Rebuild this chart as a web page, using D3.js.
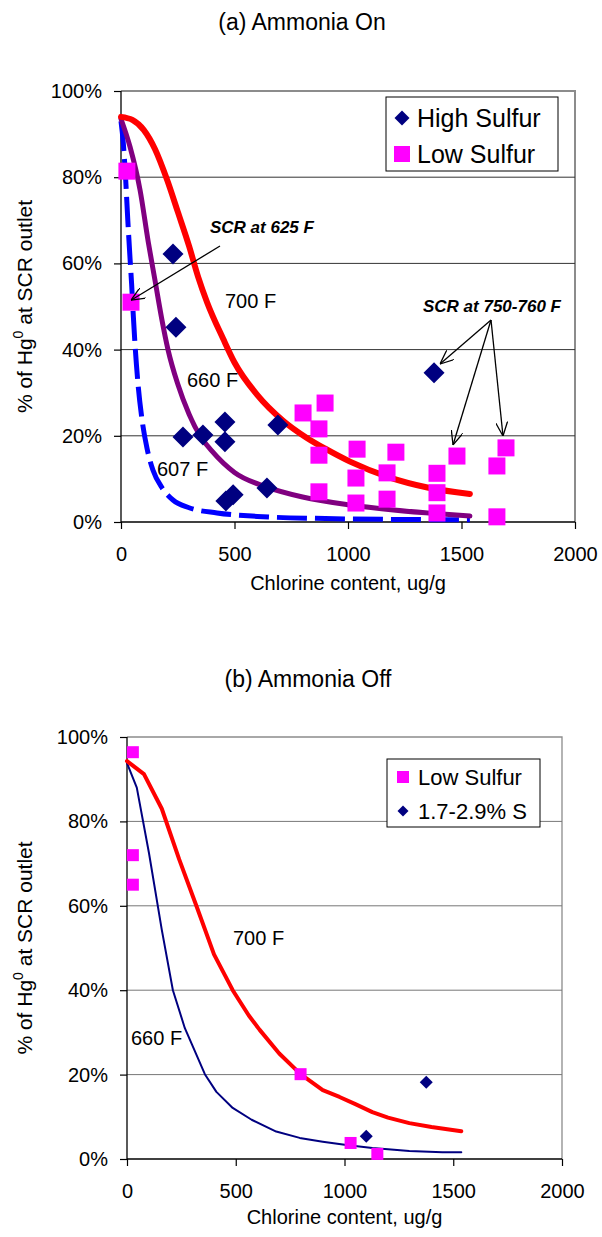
<!DOCTYPE html>
<html>
<head>
<meta charset="utf-8">
<script src="https://cdn.jsdelivr.net/npm/d3@7"></script>
<style>
  body { margin: 0; background: #fff; }
  svg text { font-family: Arial, "Liberation Sans", sans-serif; fill: #000; }
</style>
</head>
<body>
<div id="chart"></div>
<script>
// ---- data (chlorine ug/g, % Hg0 at SCR outlet) ----
const xTicks = [0, 500, 1000, 1500, 2000];
const yTicks = [0, 20, 40, 60, 80, 100];

// (a) Ammonia On
const onHighSulfur = [[229, 62.2], [242, 45.2], [273, 19.7], [361, 20.2], [458, 23.2], [458, 18.6],
  [462, 4.9], [494, 6.3], [643, 7.9], [691, 22.5], [1379, 34.6]];
const onLowSulfur = [[26, 81.4], [44, 51], [802, 25.3], [899, 27.6], [872, 21.6], [872, 15.5], [872, 7],
  [1040, 16.9], [1035, 10.2], [1035, 4.4], [1211, 16.2], [1172, 11.4], [1172, 5.3],
  [1392, 11.3], [1392, 6.8], [1392, 2.1], [1480, 15.3], [1656, 13], [1696, 17.2], [1656, 1.2]];
const on700F = [[0, 94], [50, 93.3], [100, 91], [150, 86.5], [203, 79.4], [250, 72], [300, 64],
  [339, 57], [379, 51], [450, 42.5], [500, 37], [600, 29.5], [714, 23.5], [819, 19.5], [900, 17],
  [1009, 14], [1185, 10.3], [1350, 8], [1537, 6.5]];
const on660F = [[0, 93.5], [40, 87], [84, 77], [120, 65], [150, 56], [180, 47], [207, 40], [250, 32],
  [300, 25], [348, 20], [400, 16.5], [500, 11.5], [643, 8.1], [800, 5.8], [1000, 4], [1200, 2.8],
  [1400, 1.9], [1537, 1.4]];
const on607F = [[0, 93], [10, 88], [20, 80], [30, 70], [40, 61], [47, 55], [53, 49], [62, 41], [75, 32],
  [92, 24], [115, 17], [141, 12], [180, 8], [229, 5.1], [300, 3.3], [423, 2.1], [600, 1.3], [900, 0.8],
  [1200, 0.6], [1537, 0.5]];

// (b) Ammonia Off
const offLowSulfur = [[27, 96.4], [27, 72], [27, 65], [798, 20.1], [1028, 3.8], [1151, 1.2]];
const offMidSulfur = [[1100, 5.4], [1376, 18.2]];
const off700F = [[0, 94.3], [78, 91.2], [160, 83], [240, 71], [321, 59.7], [400, 48.5], [486, 40],
  [560, 34], [610, 30.6], [700, 25], [798, 20.1], [900, 16.3], [977, 14.7], [1050, 13], [1128, 11.1],
  [1200, 9.8], [1298, 8.5], [1400, 7.6], [1537, 6.6]];
const off660F = [[0, 93.8], [45, 88], [101, 72.5], [160, 54.3], [211, 40], [266, 31], [300, 27],
  [358, 20.1], [411, 15.9], [486, 12.1], [573, 9.3], [686, 6.5], [794, 5], [900, 4.1], [1009, 3.3],
  [1128, 2.6], [1200, 2.3], [1298, 1.9], [1450, 1.6], [1537, 1.6]];

const svg = d3.select('#chart').append('svg')
  .attr('width', 602).attr('height', 1237);

svg.append('defs').append('marker')
  .attr('id', 'arrow')
  .attr('markerUnits', 'userSpaceOnUse')
  .attr('viewBox', '0 0 14 12')
  .attr('refX', 14).attr('refY', 6)
  .attr('markerWidth', 14).attr('markerHeight', 12)
  .attr('orient', 'auto')
  .append('path')
  .attr('d', 'M0,0 L14,6 L0,12')
  .attr('fill', 'none').attr('stroke', '#000').attr('stroke-width', 1.3);

// draws frame, grid and axes for one panel, returns scales
function panel(box, opts) {
  const x = d3.scaleLinear().domain([0, 2000]).range([box.left, box.right]);
  const y = d3.scaleLinear().domain([0, 100]).range([box.bottom, box.top]);
  const g = svg.append('g');

  // border (gray)
  g.append('path')
    .attr('d', `M${box.left},${box.top} H${box.right} V${box.bottom}`)
    .attr('fill', 'none').attr('stroke', '#8c8c8c').attr('stroke-width', opts.borderW);

  // gridlines
  g.selectAll('.grid').data(yTicks.filter(d => d > 0 && d < 100)).join('line')
    .attr('x1', box.left).attr('x2', box.right)
    .attr('y1', d => y(d)).attr('y2', d => y(d))
    .attr('stroke', opts.gridColor).attr('stroke-width', 1);

  const yAxis = g.append('g')
    .attr('transform', `translate(${box.left},0)`)
    .call(d3.axisLeft(y).tickValues(yTicks).tickFormat(d => d + '%').tickSize(7).tickPadding(opts.yPad));
  const xAxis = g.append('g')
    .attr('transform', `translate(0,${box.bottom})`)
    .call(d3.axisBottom(x).tickValues(xTicks).tickFormat(d3.format('d')).tickSize(7).tickPadding(opts.xPad));
  [yAxis, xAxis].forEach(a => {
    a.select('.domain').attr('stroke', '#000').attr('stroke-width', 1.3);
    a.selectAll('.tick line').attr('stroke', '#000').attr('stroke-width', 1.2);
    a.selectAll('text').attr('font-size', 20).attr('font-family', 'Arial, "Liberation Sans", sans-serif');
  });
  // draw the domain so it does not poke out at ends
  yAxis.select('.domain').attr('d', `M0,${box.bottom}V${box.top}`);
  xAxis.select('.domain').attr('d', `M${box.left},0H${box.right}`);

  // titles
  g.append('text').attr('x', opts.titleX).attr('y', opts.titleY)
    .attr('text-anchor', 'middle').attr('font-size', 23).text(opts.title);
  g.append('text').attr('x', (box.left + box.right) / 2).attr('y', opts.xTitleY)
    .attr('text-anchor', 'middle').attr('font-size', 20).text('Chlorine content, ug/g');
  const yl = g.append('text')
    .attr('transform', `translate(${opts.yTitleX},${(box.top + box.bottom) / 2}) rotate(-90)`)
    .attr('text-anchor', 'middle').attr('font-size', 21);
  yl.append('tspan').text('% of Hg');
  yl.append('tspan').attr('dy', -9).attr('font-size', 14).text('0');
  yl.append('tspan').attr('dy', 9).text(' at SCR outlet');
  return { x, y, g };
}

function curve(p, data, color, width, dash, linear) {
  const line = d3.line()
    .x(d => p.x(d[0])).y(d => p.y(d[1]))
    .curve(linear ? d3.curveLinear : d3.curveMonotoneX);
  p.g.append('path').datum(data)
    .attr('d', line).attr('fill', 'none')
    .attr('stroke', color).attr('stroke-width', width)
    .attr('stroke-dasharray', dash || null)
    .attr('stroke-linejoin', 'round').attr('stroke-linecap', dash ? 'butt' : 'round');
}

function squares(p, data, size) {
  p.g.selectAll(null).data(data).join('rect')
    .attr('x', d => p.x(d[0]) - size / 2).attr('y', d => p.y(d[1]) - size / 2)
    .attr('width', size).attr('height', size).attr('fill', '#ff00ff');
}

function diamonds(p, data, r) {
  p.g.selectAll(null).data(data).join('path')
    .attr('d', d => {
      const cx = p.x(d[0]), cy = p.y(d[1]);
      return `M${cx},${cy - r}L${cx + r},${cy}L${cx},${cy + r}L${cx - r},${cy}Z`;
    })
    .attr('fill', '#000080');
}

function label(p, x, y, txt, size, bold) {
  p.g.append('text').attr('x', x).attr('y', y).attr('font-size', size)
    .attr('font-weight', bold ? 'bold' : null)
    .attr('font-style', bold ? 'italic' : null)
    .text(txt);
}

function arrow(p, x1, y1, x2, y2) {
  p.g.append('line').attr('x1', x1).attr('y1', y1).attr('x2', x2).attr('y2', y2)
    .attr('stroke', '#000').attr('stroke-width', 1.3).attr('marker-end', 'url(#arrow)');
}

function legend(p, box, items, size) {
  const lg = p.g.append('g');
  lg.append('rect').attr('x', box.x).attr('y', box.y).attr('width', box.w).attr('height', box.h)
    .attr('fill', '#fff').attr('stroke', '#000').attr('stroke-width', 1);
  items.forEach((it, i) => {
    const cy = box.y + box.first + i * box.step;
    const cx = box.x + 16;
    if (it.shape === 'square') {
      lg.append('rect').attr('x', cx - it.s / 2).attr('y', cy - it.s / 2)
        .attr('width', it.s).attr('height', it.s).attr('fill', '#ff00ff');
    } else {
      lg.append('path')
        .attr('d', `M${cx},${cy - it.s / 2}L${cx + it.s / 2},${cy}L${cx},${cy + it.s / 2}L${cx - it.s / 2},${cy}Z`)
        .attr('fill', '#000080');
    }
    lg.append('text').attr('x', box.x + 31).attr('y', cy).attr('dy', '0.36em')
      .attr('font-size', size).text(it.name);
  });
}

// ---------- (a) Ammonia On ----------
const pa = panel({ left: 121, right: 575, top: 91, bottom: 522 }, {
  title: '(a) Ammonia On', titleX: 302, titleY: 30, xTitleY: 590, yTitleX: 32,
  gridColor: '#333', borderW: 2, yPad: 12, xPad: 18
});
curve(pa, on607F, '#0000ff', 5, '30,8');
curve(pa, on660F, '#800080', 5);
curve(pa, on700F, '#ff0000', 6);
squares(pa, onLowSulfur, 17);
diamonds(pa, onHighSulfur, 10.5);

label(pa, 210, 233, 'SCR at 625 F', 17, true);
arrow(pa, 220, 246, pa.x(44), pa.y(51) - 2);
label(pa, 423, 312, 'SCR at 750-760 F', 17, true);
arrow(pa, 491, 320, 440, 364);
arrow(pa, 491, 320, 453, 445);
arrow(pa, 491, 320, 503, 436);
label(pa, 225, 308, '700 F', 20);
label(pa, 187, 387, '660 F', 20);
label(pa, 157, 476, '607 F', 20);

legend(pa, { x: 386, y: 97, w: 172, h: 74, first: 21, step: 36 }, [
  { name: 'High Sulfur', shape: 'diamond', s: 15 },
  { name: 'Low Sulfur', shape: 'square', s: 16 }
], 25);

// ---------- (b) Ammonia Off ----------
const pb = panel({ left: 127, right: 562, top: 737, bottom: 1159 }, {
  title: '(b) Ammonia Off', titleX: 308, titleY: 687, xTitleY: 1224, yTitleX: 32,
  gridColor: '#777', borderW: 1.3, yPad: 12, xPad: 18
});
curve(pb, off660F, '#000080', 2, null, true);
curve(pb, off700F, '#ff0000', 4, null, true);
squares(pb, offLowSulfur, 12);
diamonds(pb, offMidSulfur, 6.5);

label(pb, 233, 945, '700 F', 20);
label(pb, 131, 1045, '660 F', 20);

legend(pb, { x: 387, y: 759, w: 153, h: 68, first: 18, step: 34 }, [
  { name: 'Low Sulfur', shape: 'square', s: 12 },
  { name: '1.7-2.9% S', shape: 'diamond', s: 11 }
], 22);
</script>
</body>
</html>
